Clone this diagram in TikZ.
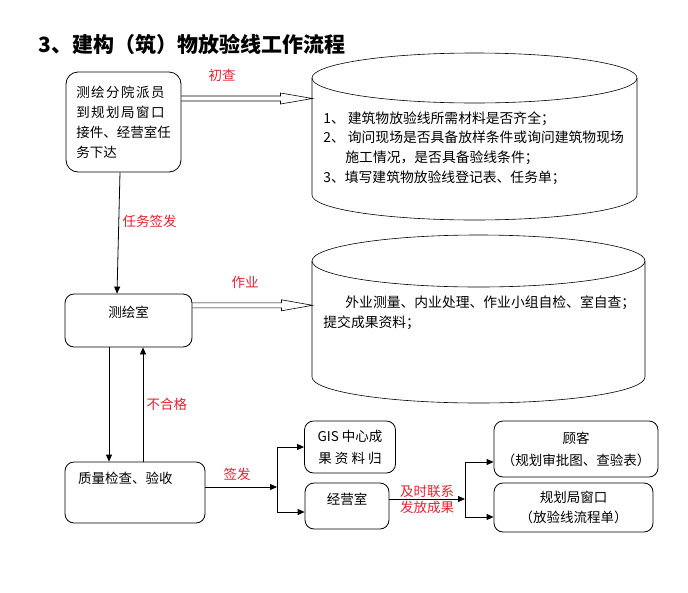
\documentclass[tikz,border=0pt]{standalone}
\usepackage{fontspec}
\setmainfont{Noto Sans CJK SC}
\newfontfamily\spacedcjk{Noto Sans CJK SC}[LetterSpace=11]
\usetikzlibrary{calc}
\usetikzlibrary{positioning}
\usetikzlibrary{arrows.meta}
\definecolor{lblred}{RGB}{232,32,48}

% hollow double arrow: from node, tip coordinate, head length
\newcommand{\hollowarrow}[3]{%
  \draw[line width=0.6pt] ($(#1.east |- #2)+(0,2.5)$) -- ($(#2)+(-#3,2.5)$) -- ($(#2)+(-#3,5.5)$)
    -- (#2) -- ($(#2)+(-#3,-5.5)$) -- ($(#2)+(-#3,-2.5)$) -- ($(#1.east |- #2)+(0,-2.5)$);}

\begin{document}
\begin{tikzpicture}[x=1pt, y=1pt, line width=0.8pt,
  box/.style={draw, rounded corners=9pt, align=center, font=\fontsize{13.5}{16}\selectfont},
  lbl/.style={text=lblred, font=\fontsize{13.5}{16}\selectfont},
  arr/.style={-{Triangle[length=7pt,width=6pt]}}]
\useasboundingbox (0,0) rectangle (688,-592);

\node[name=title, anchor=west, font=\fontsize{21}{24}\selectfont\bfseries] at (35,-44)
  {3、建构（筑）物放验线工作流程};

% boxes on the left
\node[box, name=fenyuan, rounded corners=12pt, minimum width=115pt, minimum height=100pt,
  align=left, font=\fontsize{13.5}{20}\selectfont] at (123.5,-122)
  {{\spacedcjk 测绘分院派员}\\{\spacedcjk 到规划局窗口}\\接件、经营室任\\务下达};
\node[box, name=cehui, minimum width=127pt, minimum height=53pt] at (128.5,-320.5)
  {测绘室\\[1.7pt]~};
\node[box, name=zhiliang, minimum width=140pt, minimum height=61pt,
  text width=114pt, align=left] at (135,-492.5) {质量检查、验收\\[12.7pt]~};

% boxes on the right
\node[box, name=gis, minimum width=91pt, minimum height=52pt,
  font=\fontsize{13.5}{22}\selectfont] at (350,-447) {GIS 中心成\\果 资 料 归};
\node[box, name=jingying, minimum width=84pt, minimum height=46pt] at (347,-506)
  {经营室\\[-2.3pt]~};
\node[box, name=guke, minimum width=164pt, minimum height=56pt,
  font=\fontsize{13.5}{22}\selectfont] at (576,-449) {顾客\\（规划审批图、查验表）};
\node[box, name=chuangkou, minimum width=159pt, minimum height=49pt,
  font=\fontsize{13.5}{20}\selectfont] at (573.5,-507.5) {规划局窗口\\（放验线流程单）};

% cylinders
\begin{scope}[line width=0.6pt]
  \draw (474.5,-78) ellipse [x radius=162.5pt, y radius=25pt];
  \draw (312,-78) -- (312,-195) arc[start angle=180, end angle=360, x radius=162.5pt, y radius=25pt] -- (637,-78);
  \draw (478.5,-261) ellipse [x radius=166.5pt, y radius=26pt];
  \draw (312,-261) -- (312,-377) arc[start angle=180, end angle=360, x radius=166.5pt, y radius=26pt] -- (645,-261);
\end{scope}
\coordinate (chucha) at (312.5,-98.5);
\coordinate (zuoye) at (312.5,-305.3);

\node[name=chachatext, anchor=north west, inner sep=0pt, align=left,
  font=\fontsize{13.8}{19.8}\selectfont] at (323,-111)
  {1、\hspace{3pt}建筑物放验线所需材料是否齐全；\\
   2、\hspace{3pt}询问现场是否具备放样条件或询问建筑物现场\\
   \hspace*{22pt}施工情况，是否具备验线条件；\\
   3、填写建筑物放验线登记表、任务单；};
\node[name=zuoyetext, anchor=north west, inner sep=0pt, align=left,
  font=\fontsize{13.8}{20}\selectfont] at (323,-295)
  {\hspace*{22pt}外业测量、内业处理、作业小组自检、室自查；\\提交成果资料；};

% connectors
\hollowarrow{fenyuan}{chucha}{32}
\node[lbl, name=lblchucha] at (222,-75) {初查};
\hollowarrow{cehui}{zuoye}{31}
\node[lbl, name=lblzuoye] at (245,-282) {作业};

\draw[arr] ($(fenyuan.south)+(-3.5,0)$) -- ($(cehui.north)+(-11.5,0)$)
  node[lbl, pos=0.4, anchor=west] {任务签发};
\draw[arr] ($(cehui.south)+(-19.5,0)$) -- ($(zhiliang.north)+(-26,0)$);
\draw[arr] ($(zhiliang.north)+(8,0)$) -- ($(cehui.south)+(14.5,0)$)
  node[lbl, pos=0.5, anchor=west] {不合格};

\coordinate (fork1) at (277,-487);
\draw[arr] (fork1 -| zhiliang.east) -- (fork1) node[lbl, midway, above=3pt, xshift=-4pt] {签发};
\draw[arr] (fork1) |- (gis.west);
\draw[arr] (fork1) |- ($(jingying.west)+(0,-6)$);

\coordinate (fork2) at (465,-499);
\draw[arr] (fork2 -| jingying.east) -- (fork2)
  node[lbl, midway, above, inner sep=1pt] {及时联系}
  node[lbl, midway, below, inner sep=2pt] {发放成果};
\draw[arr] (fork2) |- ($(guke.west)+(0,-13)$);
\draw[arr] (fork2) |- ($(chuangkou.west)+(0,-9.5)$);
\end{tikzpicture}
\end{document}
